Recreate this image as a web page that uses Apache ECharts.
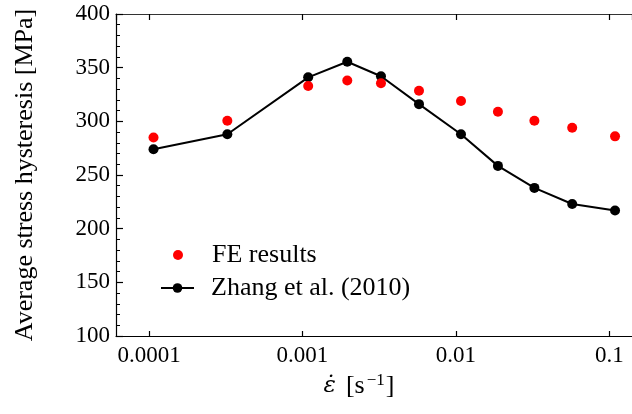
<!DOCTYPE html>
<html>
<head>
<meta charset="utf-8">
<script src="https://cdn.jsdelivr.net/npm/echarts@6/dist/echarts.min.js"></script>
<style>html,body{margin:0;padding:0;background:#fff}#c{width:632px;height:414px}</style>
</head>
<body>
<div id="c"></div>
<script>
const strainRates = [1.07e-4, 3.24e-4, 1.09e-3, 1.96e-3, 3.25e-3, 5.75e-3, 0.0108, 0.0188, 0.0325, 0.0573, 0.109];
const feResults = [285, 300.5, 333, 338, 335.5, 328.5, 319, 309, 300.5, 294, 286];
const zhang2010 = [274, 288, 341, 355.5, 342, 316, 288, 258.5, 238, 223, 217];
const xTickLabels = ['0.0001', '0.001', '0.01', '0.1'];
const yMin = 100, yMax = 400, yStep = 50;

const FONT = 'Liberation Serif';
const xMin = Math.pow(10, -4.2151), xMax = Math.pow(10, -0.852);

function fmtX(v) {
  const e = Math.round(Math.log10(v));
  const idx = e + 4;
  return (idx >= 0 && idx < xTickLabels.length) ? xTickLabels[idx] : '';
}

const chart = echarts.init(document.getElementById('c'), null, {renderer: 'canvas'});
chart.setOption({
  animation: false,
  backgroundColor: '#fff',
  grid: {left: 116, top: 14, right: 0, bottom: 78, containLabel: false},
  xAxis: [{
    type: 'log', logBase: 10, min: xMin, max: xMax, position: 'bottom',
    axisLine: {show: true, onZero: false, lineStyle: {color: '#000', width: 1.2}},
    axisTick: {show: true, inside: true, length: 5, lineStyle: {color: '#000', width: 1.2}},
    minorTick: {show: false},
    splitLine: {show: false},
    axisLabel: {show: true, formatter: fmtX, fontFamily: FONT, fontSize: 23, color: '#000', margin: 8, showMinLabel: false, showMaxLabel: false},
    name: '{e|ε̇}{g| }{b|[s}{s|−1}{b|]}',
    nameLocation: 'middle', nameGap: 34,
    nameTextStyle: {
      padding: [0, 30, 0, 0],
      rich: {
        e: {fontFamily: 'DejaVu Serif', fontStyle: 'italic', fontSize: 23, color: '#000'},
        g: {fontFamily: FONT, fontSize: 26, width: 10},
        b: {fontFamily: FONT, fontSize: 26, color: '#000'},
        s: {fontFamily: FONT, fontSize: 17, color: '#000', padding: [0, 1, 12, 2]}
      }
    }
  }, {
    type: 'log', logBase: 10, min: xMin, max: xMax, position: 'top',
    axisLine: {show: true, onZero: false, lineStyle: {color: '#333', width: 1.2}},
    axisTick: {show: true, inside: true, length: 6, lineStyle: {color: '#000', width: 1.2}},
    splitLine: {show: false},
    axisLabel: {show: false}
  }],
  yAxis: {
    type: 'value', min: yMin, max: yMax, interval: yStep,
    axisLine: {show: true, onZero: false, lineStyle: {color: '#000', width: 1.2}},
    axisTick: {show: true, inside: true, length: 7, lineStyle: {color: '#000', width: 1.2}},
    minorTick: {show: true, splitNumber: 5, length: 4, lineStyle: {color: '#000', width: 1}},
    splitLine: {show: false},
    axisLabel: {fontFamily: FONT, fontSize: 23, color: '#000', margin: 6},
    name: 'Average stress hysteresis [MPa]',
    nameLocation: 'middle', nameGap: 78,
    nameTextStyle: {fontFamily: FONT, fontSize: 26, color: '#000'}
  },
  legend: [{
    data: ['FE results'], icon: 'circle',
    left: 173, top: 242, orient: 'vertical', padding: 0,
    itemWidth: 10, itemHeight: 10,
    textStyle: {fontFamily: FONT, fontSize: 26, color: '#000', padding: [0, 0, 0, 24]}
  }, {
    data: ['Zhang et al. (2010)'],
    left: 160, top: 275, orient: 'vertical', padding: 0,
    itemWidth: 33, itemHeight: 12,
    textStyle: {fontFamily: FONT, fontSize: 26, color: '#000', padding: [0, 0, 0, 12]}
  }],
  series: [{
    name: 'FE results', type: 'scatter',
    data: strainRates.map((x, i) => [x, feResults[i]]),
    symbol: 'circle', symbolSize: 10,
    itemStyle: {color: '#ff0000', opacity: 1}, z: 3
  }, {
    name: 'Zhang et al. (2010)', type: 'line',
    data: strainRates.map((x, i) => [x, zhang2010[i]]),
    symbol: 'circle', symbolSize: 10, showSymbol: true,
    lineStyle: {color: '#000', width: 2},
    itemStyle: {color: '#000'}, z: 2
  }]
});
</script>
</body>
</html>
